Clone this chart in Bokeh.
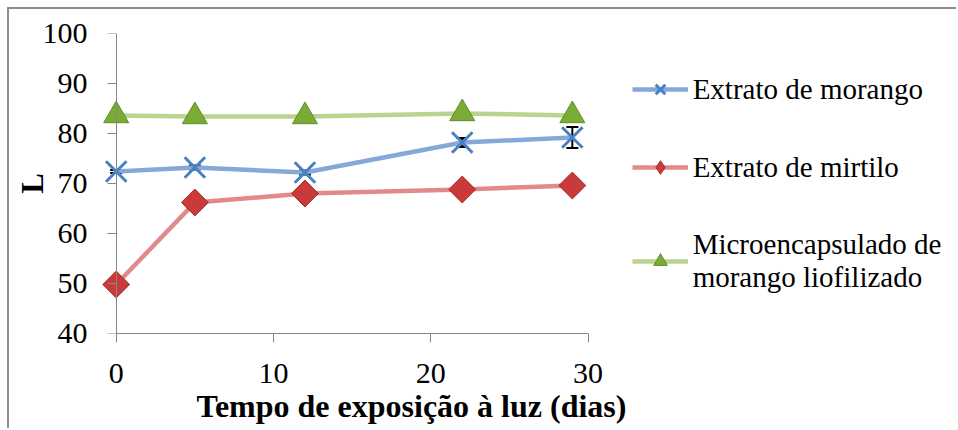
import numpy as np
from bokeh.plotting import figure
from bokeh.models import (ColumnDataSource, Whisker, TeeHead, Legend, LegendItem,
                          Title, FixedTicker, LinearAxis)
from bokeh.embed import file_html
from bokeh.resources import INLINE

# ---- data ----
dias = [0, 5, 12, 22, 29]
extrato_morango = [72.4, 73.2, 72.2, 78.2, 79.2]
extrato_morango_err = [0.3, 0.4, 0.4, 0.9, 2.1]
extrato_mirtilo = [49.8, 66.2, 68.0, 68.8, 69.6]
microencapsulado = [83.6, 83.4, 83.4, 84.0, 83.6]
x_ticks = [0, 10, 20, 30]
y_ticks = [40, 50, 60, 70, 80, 90, 100]
labels = ["Extrato de morango", "Extrato de mirtilo",
          "Microencapsulado de\nmorango liofilizado"]

FONT = "Liberation Serif"
AXIS_GRAY = "#868686"

W, H = 949, 421
AXIS_LEFT = 107          # where x=0 should sit (figure px)
TOP, BOTTOM = 24, 97
AXIS_PX = 470            # pixel length of the 0..30 axis
PX_PER_UNIT = AXIS_PX / 30
X_PAD = 1.0              # room so markers at x=0 are not clipped
RIGHT_RESERVE = 3        # space kept by the tick-only axis on the right
LEFT = AXIS_LEFT - X_PAD * PX_PER_UNIT
X_END = (W - AXIS_LEFT - RIGHT_RESERVE) / PX_PER_UNIT

p = figure(width=W, height=H, x_range=(-X_PAD, X_END), y_range=(40, 100),
           output_backend="svg", toolbar_location=None,
           min_border_left=int(round(LEFT)), min_border_top=TOP,
           min_border_bottom=BOTTOM, min_border_right=0)
p.styles = {"margin-left": "7px", "margin-top": "7px",
            "border-left": "2px solid #8c8c8c", "border-top": "2px solid #8c8c8c"}
p.outline_line_color = None
p.xgrid.visible = False
p.ygrid.visible = False

# x axis
xa = p.xaxis[0]
xa.axis_line_color = AXIS_GRAY
xa.major_tick_line_color = AXIS_GRAY
xa.minor_tick_line_color = None
xa.major_tick_in = 0
xa.major_tick_out = 9
xa.major_label_text_font = FONT
xa.major_label_text_font_size = "30px"
xa.major_label_text_color = "black"
xa.bounds = (0, 30)
xa.ticker = FixedTicker(ticks=x_ticks)
xa.major_label_standoff = 21

# y axis at frame edge: only labels and title
ya = p.yaxis[0]
ya.ticker = FixedTicker(ticks=y_ticks)
ya.axis_line_color = None
ya.major_tick_line_color = None
ya.minor_tick_line_color = None
ya.major_tick_in = 0
ya.major_tick_out = 0
ya.major_label_standoff = 13
ya.major_label_text_font = FONT
ya.major_label_text_font_size = "30px"
ya.major_label_text_color = "black"
ya.axis_label = "L"
ya.axis_label_text_font = FONT
ya.axis_label_text_font_style = "bold"
ya.axis_label_text_font_size = "31px"
ya.axis_label_text_color = "black"
ya.axis_label_standoff = -10

# y axis line and ticks at x = 0 (its labels are not drawn)
y0 = LinearAxis(fixed_location=0, ticker=FixedTicker(ticks=y_ticks),
                axis_line_color=AXIS_GRAY, major_tick_line_color=AXIS_GRAY,
                minor_tick_line_color=None, major_tick_in=9, major_tick_out=0,
                major_label_text_font_size="1px", major_label_text_color=None,
                major_label_standoff=0)
p.add_layout(y0, "right")

xt = Title(text="Tempo de exposição à luz (dias)", align="left",
           offset=int(round(197 - 9 - LEFT)) - 1,
           text_font=FONT, text_font_style="bold", text_font_size="32px",
           text_color="black", standoff=0)
p.add_layout(xt, "below")

src_m = ColumnDataSource(dict(x=dias, y=extrato_morango,
                              upper=[v + e for v, e in zip(extrato_morango, extrato_morango_err)],
                              lower=[v - e for v, e in zip(extrato_morango, extrato_morango_err)]))
src_b = ColumnDataSource(dict(x=dias, y=extrato_mirtilo))
src_g = ColumnDataSource(dict(x=dias, y=microencapsulado))
src_none = ColumnDataSource(dict(x=[np.nan], y=[np.nan]))  # legend swatch only

lg = p.line("x", "y", source=src_g, line_color="#b8d48e", line_width=4.5)
sg = p.scatter("x", "y", source=src_g, marker="triangle", size=25,
               fill_color="#7aab35", line_color="#5f8f28", line_width=1)

lb = p.line("x", "y", source=src_b, line_color="#e28a8a", line_width=4.5)
sb = p.scatter("x", "y", source=src_b, marker="square", size=19, angle=np.pi / 4,
               fill_color="#c93a3a", line_color="#a82c2c", line_width=1)
sb_leg = p.scatter("x", "y", source=src_none, marker="diamond", size=19,
                   fill_color="#c93a3a", line_color="#a82c2c", line_width=1)

lm = p.line("x", "y", source=src_m, line_color="#84a9d8", line_width=4.5)
sm = p.scatter("x", "y", source=src_m, marker="x", size=29,
               line_color="#4a80c4", line_width=3)

wh = Whisker(base="x", upper="upper", lower="lower", source=src_m,
             line_color="black", line_width=2,
             upper_head=TeeHead(size=12, line_color="black", line_width=2),
             lower_head=TeeHead(size=12, line_color="black", line_width=2))
p.add_layout(wh)

legend = Legend(items=[LegendItem(label=labels[0], renderers=[lm, sm]),
                       LegendItem(label=labels[1], renderers=[lb, sb_leg]),
                       LegendItem(label=labels[2], renderers=[lg, sg])],
                location=(516 + X_PAD * PX_PER_UNIT, 39), orientation="vertical",
                label_text_font=FONT, label_text_font_size="29px",
                label_text_color="black", glyph_width=56, glyph_height=34,
                spacing=44, padding=0, margin=0, label_standoff=5,
                border_line_color=None, background_fill_alpha=0)
p.add_layout(legend, "center")

open("out.html", "w").write(file_html(p, INLINE))
